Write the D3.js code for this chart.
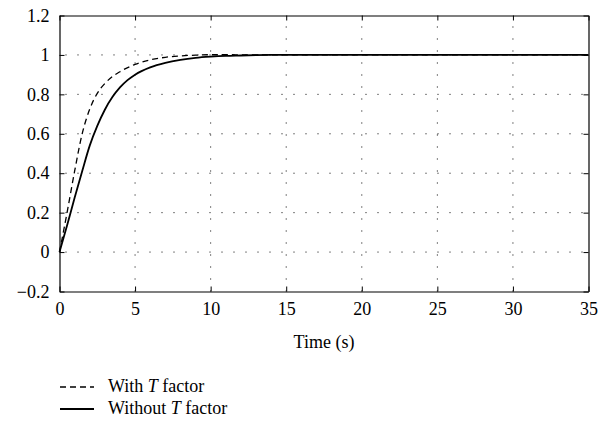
<!DOCTYPE html>
<html><head><meta charset="utf-8">
<script src="https://cdn.jsdelivr.net/npm/d3@7"></script>
<style>body{margin:0;background:#fff}svg{display:block}svg text{font-family:"Liberation Serif","DejaVu Serif",serif !important;fill:#000}</style>
</head><body><svg id="c" width="613" height="428"></svg>
<script>
const xTicks = [0,5,10,15,20,25,30,35];
const yTicks = [-0.2,0,0.2,0.4,0.6,0.8,1,1.2];
const yTickLabels = ["\u22120.2","0","0.2","0.4","0.6","0.8","1","1.2"];
const xLabel = "Time (s)";
const tWith = [0,0.5,1.0,1.5,2,2.5,3,3.5,4,5,6,7,8,9,10,11,12,14,35];
const yWith = [0,0.2,0.41,0.6,0.725,0.805,0.855,0.89,0.915,0.952,0.975,0.988,0.995,0.999,1.001,1.001,1.0005,1,1];
const tWithout = [0,0.5,1.0,1.5,2.0,2.5,3,3.5,4,4.5,5,6,7,8,9,10,11,12,13,14,35];
const yWithout = [0,0.135,0.275,0.41,0.54,0.64,0.722,0.786,0.835,0.872,0.9,0.937,0.96,0.975,0.985,0.991,0.995,0.997,0.999,1,1];
const seriesNames = ["With ", "Without "];

const svg = d3.select("#c");
const L=59.5, R=588.5, T=15.5, B=291.5;
const x = d3.scaleLinear().domain([0,35]).range([L,R]);
const y = d3.scaleLinear().domain([-0.2,1.2]).range([B,T]);
const fs = 18;
const ff = '"Liberation Serif","DejaVu Serif",serif';

// grid
const g = svg.append("g");
xTicks.filter(v=>v>0&&v<35).forEach(v=>{
  g.append("line").attr("x1",x(v)).attr("x2",x(v)).attr("y1",B).attr("y2",T)
   .attr("stroke","#000").attr("stroke-width",1).attr("stroke-dasharray","1,11");
});
yTicks.filter(v=>v>-0.2&&v<1.2).forEach(v=>{
  g.append("line").attr("x1",L).attr("x2",R).attr("y1",y(v)).attr("y2",y(v))
   .attr("stroke","#000").attr("stroke-width",1).attr("stroke-dasharray","1,11").attr("stroke-dashoffset",-6);
});

// axes with inward ticks
const ax = svg.append("g");
ax.append("g").attr("transform",`translate(0,${B})`).call(d3.axisBottom(x).tickValues(xTicks).tickSizeInner(-5).tickSizeOuter(0).tickPadding(11).tickFormat(d3.format("d")));
ax.append("g").attr("transform",`translate(0,${T})`).call(d3.axisTop(x).tickValues(xTicks).tickSizeInner(-5).tickSizeOuter(0).tickFormat(""));
ax.append("g").attr("transform",`translate(${L},0)`).call(d3.axisLeft(y).tickValues(yTicks).tickSizeInner(-5).tickSizeOuter(0).tickPadding(10).tickFormat((d,i)=>yTickLabels[i]));
ax.append("g").attr("transform",`translate(${R},0)`).call(d3.axisRight(y).tickValues(yTicks).tickSizeInner(-5).tickSizeOuter(0).tickFormat(""));
ax.selectAll("g").attr("font-family",ff).attr("font-size",fs);
ax.selectAll(".domain").attr("stroke","#000").attr("stroke-width",1.2);
ax.selectAll(".tick line").attr("stroke","#000");
ax.selectAll("text").attr("font-family",ff).style("font-size",fs+"px");

// curves
const line = d3.line().x(d=>x(d[0])).y(d=>y(d[1])).curve(d3.curveMonotoneX);
svg.append("path").datum(tWith.map((t,i)=>[t,yWith[i]])).attr("d",line)
  .attr("fill","none").attr("stroke","#000").attr("stroke-width",1.3).attr("stroke-dasharray","6,4");
svg.append("path").datum(tWithout.map((t,i)=>[t,yWithout[i]])).attr("d",line)
  .attr("fill","none").attr("stroke","#000").attr("stroke-width",1.8);

// x label
svg.append("text").attr("x",(L+R)/2).attr("y",348).attr("text-anchor","middle").attr("font-family",ff).style("font-size",fs+"px").text(xLabel);

// legend
const lg = svg.append("g").attr("font-family",ff);
const rows = [{y:387,dash:"6,4",w:1.3},{y:409,dash:null,w:1.8}];
rows.forEach((r,i)=>{
  const ln = lg.append("line").attr("x1",60).attr("x2",94).attr("y1",r.y).attr("y2",r.y).attr("stroke","#000").attr("stroke-width",r.w);
  if(r.dash) ln.attr("stroke-dasharray",r.dash);
  const t = lg.append("text").attr("x",108).attr("y",r.y+5).style("font-size",fs+"px");
  t.append("tspan").text(seriesNames[i]);
  t.append("tspan").style("font-style","italic").text("T");
  t.append("tspan").text(" factor");
});
</script></body></html>
